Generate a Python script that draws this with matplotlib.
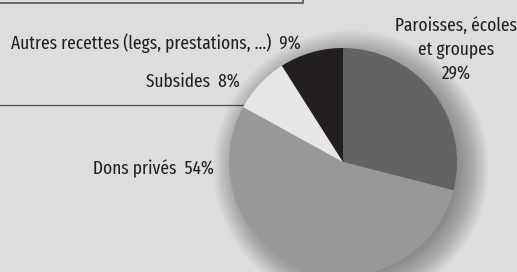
import matplotlib
matplotlib.use("Agg")
import matplotlib.pyplot as plt
from matplotlib.patches import Circle

# Data
labels = ["Paroisses, écoles\net groupes", "Dons privés", "Subsides", "Autres recettes (legs, prestations, ...)"]
shares = [29, 54, 8, 9]
colors = ["#636363", "#97989a", "#e7e7e8", "#231f20"]

plt.rcParams['font.family'] = ['Fira Sans Extra Condensed', 'Fira Sans Condensed',
                               'Liberation Sans', 'DejaVu Sans']

W, H = 517, 272
fig = plt.figure(figsize=(W / 100, H / 100), dpi=100)
fig.patch.set_facecolor("#dcdddf")
ax = fig.add_axes([0, 0, 1, 1])

cx, cy, r = 343, H - 162, 114

# frame lines behind the pie
ax.plot([0, 303, 303], [H - 3, H - 3, H], color="#666666", lw=1.4, zorder=1)
ax.plot([0, 260], [H - 105, H - 105], color="#4d4d4d", lw=0.9, zorder=1)

# soft shadow
for i in range(32):
    ax.add_patch(Circle((cx + 8, cy - 6), r + 24 - i, color="black", alpha=0.011, lw=0, zorder=2))

ax.pie(shares, colors=colors, startangle=90, counterclock=False,
       center=(cx, cy), radius=r, frame=False,
       wedgeprops=dict(linewidth=0, zorder=3))
ax.set_xlim(0, W)
ax.set_ylim(0, H)
ax.set_aspect("equal")
ax.axis("off")

tc = "#231f20"
fs = 13.6
ax.text(456, H - 50, f"{labels[0]}\n{shares[0]}%", ha="center", va="center",
        fontsize=fs, color=tc, linespacing=1.42, zorder=5)
ax.text(214, H - 169, f"{labels[1]}  {shares[1]}%", ha="right", va="center",
        fontsize=fs, color=tc, zorder=5)
ax.text(240, H - 81, f"{labels[2]}  {shares[2]}%", ha="right", va="center",
        fontsize=fs, color=tc, zorder=5)
ax.text(301, H - 43, f"{labels[3]}  {shares[3]}%", ha="right", va="center",
        fontsize=fs, color=tc, zorder=5)

fig.savefig("out.png", dpi=100, facecolor=fig.get_facecolor())
